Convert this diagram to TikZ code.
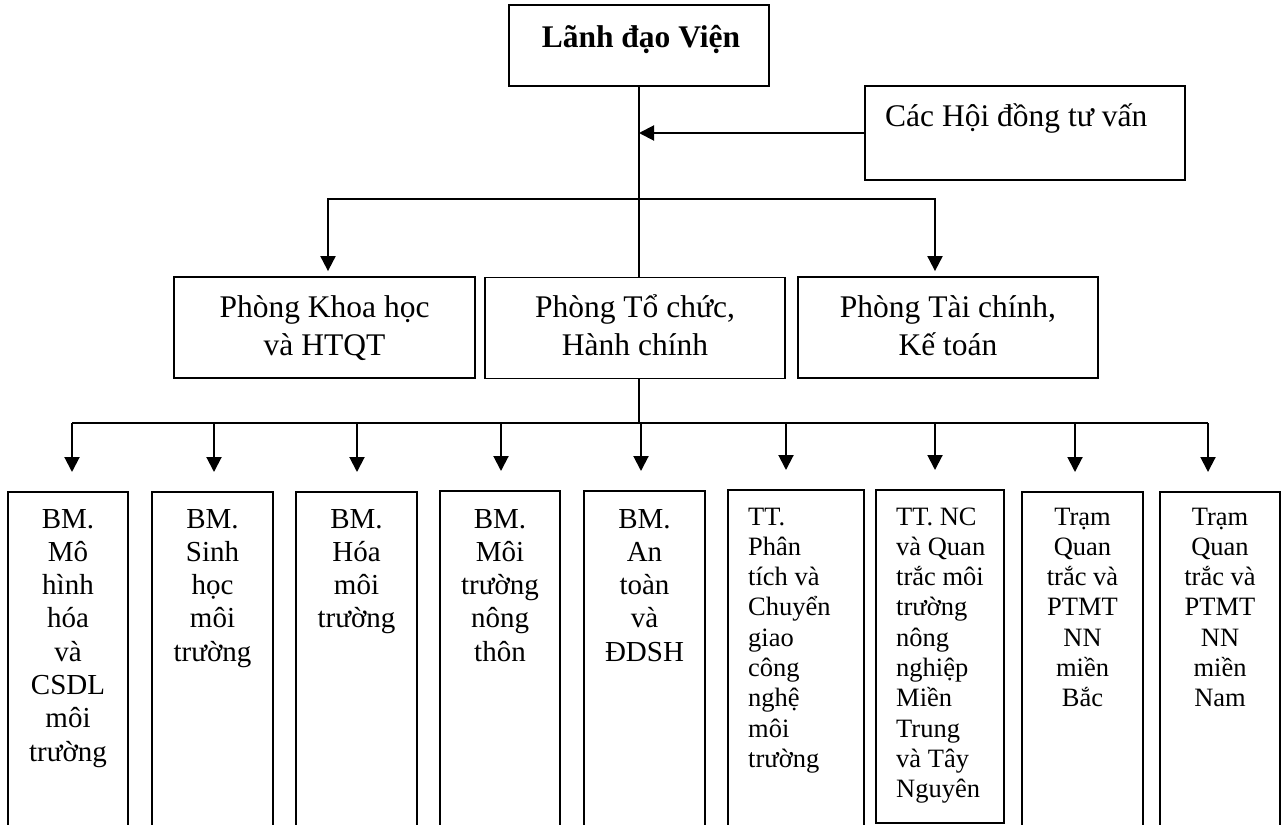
\documentclass[tikz,border=0pt]{standalone}
\usepackage{fontspec}
\setmainfont{Liberation Serif}
\usetikzlibrary{arrows.meta}
\newcommand\stk[2]{\begin{tabular}[t]{@{}#1@{}}#2\end{tabular}}
\begin{document}
\begin{tikzpicture}[x=1pt,y=-1pt,
  box/.style={draw, line width=1.8pt, inner sep=0pt},
  arr/.style={line width=2pt, -{Triangle[width=15pt,length=15pt]}},
  ln/.style={line width=2pt},
  big/.style={font=\fontsize{31.5}{38}\selectfont, inner sep=0pt},
  midf/.style={font=\fontsize{29}{33.3}\selectfont, inner sep=0pt},
  smlf/.style={font=\fontsize{26.5}{30.3}\selectfont, inner sep=0pt}]
\useasboundingbox (0,0) rectangle (1284,824);
\clip (0,0) rectangle (1284,824);

% top
\node[box, minimum width=260pt, minimum height=81pt] (lead) at (639,45.5) {};
\node[big, anchor=base] (tlead) at (641,48) {\textbf{Lãnh đạo Viện}};
\node[box, minimum width=320pt, minimum height=94pt] (council) at (1025,133) {};
\node[big, anchor=base west] (tcouncil) at (885,126) {Các Hội đồng tư vấn};

% middle
\node[box, minimum width=301pt, minimum height=101pt] (kh) at (324.5,327.5) {};
\node[box, minimum width=300pt, minimum height=101pt] (tc) at (635,328) {};
\node[box, minimum width=300pt, minimum height=101pt] (tk) at (948,327.5) {};
\node[big, anchor=base] (tkh) at (324.5,317) {\stk{c}{Phòng Khoa học\\và HTQT}};
\node[big, anchor=base] (ttc) at (635,317) {\stk{c}{Phòng Tổ chức,\\Hành chính}};
\node[big, anchor=base] (ttk) at (948,317) {\stk{c}{Phòng Tài chính,\\Kế toán}};

% bottom boxes
\node[box, anchor=north, minimum width=120pt, minimum height=400pt] (b1) at (68,491) {};
\node[box, anchor=north, minimum width=121pt, minimum height=400pt] (b2) at (212.5,491) {};
\node[box, anchor=north, minimum width=121pt, minimum height=400pt] (b3) at (356.5,491) {};
\node[box, anchor=north, minimum width=120pt, minimum height=400pt] (b4) at (500,490) {};
\node[box, anchor=north, minimum width=121pt, minimum height=400pt] (b5) at (644.5,490) {};
\node[box, anchor=north, minimum width=136pt, minimum height=400pt] (b6) at (796,489) {};
\node[box, anchor=north, minimum width=128pt, minimum height=333pt] (b7) at (940,489) {};
\node[box, anchor=north, minimum width=121pt, minimum height=400pt] (b8) at (1082.5,491) {};
\node[box, anchor=north, minimum width=120pt, minimum height=400pt] (b9) at (1220,491) {};

\node[midf, anchor=base] (t1) at (68,528) {\stk{c}{BM.\\Mô\\hình\\hóa\\và\\CSDL\\môi\\trường}};
\node[midf, anchor=base] (t2) at (212.5,528) {\stk{c}{BM.\\Sinh\\học\\môi\\trường}};
\node[midf, anchor=base] (t3) at (356.5,528) {\stk{c}{BM.\\Hóa\\môi\\trường}};
\node[midf, anchor=base] (t4) at (500,528) {\stk{c}{BM.\\Môi\\trường\\nông\\thôn}};
\node[midf, anchor=base] (t5) at (644.5,528) {\stk{c}{BM.\\An\\toàn\\và\\ĐDSH}};
\node[smlf, anchor=base west] (t6) at (748,525) {\stk{l}{TT.\\Phân\\tích và\\Chuyển\\giao\\công\\nghệ\\môi\\trường}};
\node[smlf, anchor=base west] (t7) at (896,525) {\stk{l}{TT. NC\\và Quan\\trắc môi\\trường\\nông\\nghiệp\\Miền\\Trung\\và Tây\\Nguyên}};
\node[smlf, anchor=base] (t8) at (1082.5,525) {\stk{c}{Trạm\\Quan\\trắc và\\PTMT\\NN\\miền\\Bắc}};
\node[smlf, anchor=base] (t9) at (1220,525) {\stk{c}{Trạm\\Quan\\trắc và\\PTMT\\NN\\miền\\Nam}};

% connectors
\coordinate (y1) at (0,199);
\coordinate (y2) at (0,423);
\coordinate (j1) at (lead.south |- y1);
\coordinate (j2) at (lead.south |- y2);
\draw[ln] (lead.south) -- (lead.south |- tc.north);
\draw[arr] (council.west) -- (council.west -| lead.south);
\draw[arr, shorten >=5pt] (j1) -| ([xshift=3.5pt]kh.north);
\draw[arr, shorten >=5pt] (j1) -| ([xshift=-13pt]tk.north);
\draw[ln] (tc.south -| j1) -- (j2);
\foreach \i/\s in {1/4,2/1.5,3/0.5,4/1,5/-3.5,6/-10,7/-5,8/-7.5,9/-12}{
  \coordinate (a\i) at ([xshift=\s pt]b\i.north);
}
\draw[ln] (a1 |- j2) -- (a9 |- j2);
\foreach \i in {1,...,9}{
  \draw[arr, shorten >=19pt] (a\i |- j2) -- (a\i);
}
\end{tikzpicture}
\end{document}
